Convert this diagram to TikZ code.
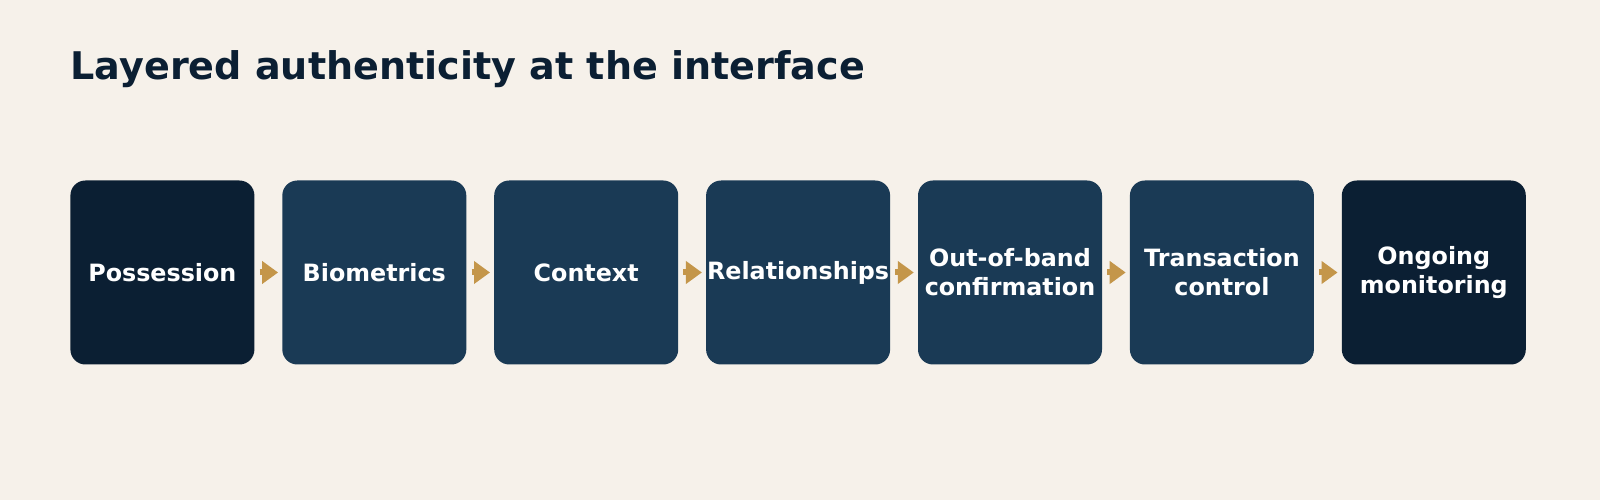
\documentclass[tikz,border=0pt]{standalone}
\usepackage{fontspec}
\setmainfont{DejaVu Sans}
\usetikzlibrary{arrows.meta,positioning}
\definecolor{paper}{HTML}{F6F1EA}
\definecolor{ink}{HTML}{0B1F33}
\definecolor{slate}{HTML}{1A3A55}
\definecolor{gold}{HTML}{C4964A}

\begin{document}
\begin{tikzpicture}[layer/.style={fill=slate,rounded corners=15pt,align=center,minimum width=184pt,minimum height=184pt,inner sep=0pt,text=white,font=\fontsize{23.8}{29}\selectfont\bfseries},edge/.style={fill=ink},arr/.style={draw=gold,line width=6pt,-{Triangle[length=16pt,width=22pt]},shorten <=5pt,shorten >=4pt},node distance=27.5pt]
\fill[paper] (0,0) rectangle (1600pt,500pt);
\useasboundingbox (0,0) rectangle (1600pt,500pt);
\node[anchor=base west,inner sep=0pt,text=ink,font=\fontsize{38.1}{44}\selectfont\bfseries] (title) at (70.4pt,420.4pt) {Layered authenticity at the interface};
\node[layer,edge] (possession) at (162.4pt,227.5pt) {Possession};
\node[layer,right=of possession] (biometrics) {Biometrics};
\node[layer,right=of biometrics] (context) {Context};
\node[layer,right=of context] (relationships) {Relationships};
\node[layer,right=of relationships] (outofband) {Out-of-band\\confirmation};
\node[layer,right=of outofband] (transaction) {Transaction\\control};
\node[layer,edge,right=of transaction] (monitoring) {Ongoing\\monitoring};
\draw[arr] (possession)--(biometrics);
\draw[arr] (biometrics)--(context);
\draw[arr] (context)--(relationships);
\draw[arr] (relationships)--(outofband);
\draw[arr] (outofband)--(transaction);
\draw[arr] (transaction)--(monitoring);
\end{tikzpicture}
\end{document}
